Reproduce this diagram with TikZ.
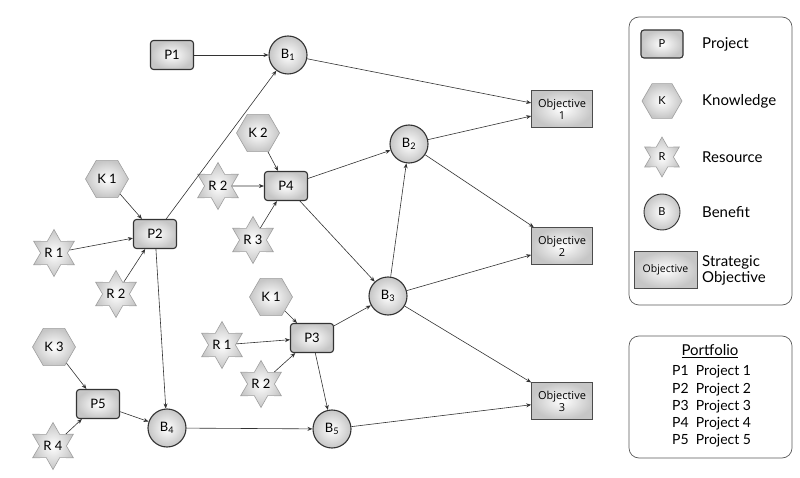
\documentclass[tikz,border=0pt]{standalone}
\usepackage{fontspec}
\setmainfont{Lato}
\newfontfamily\objfont{Open Sans}
\usetikzlibrary{shapes.geometric,arrows.meta}
\tikzset{
  gshade/.style={shading=radial, inner color=white, outer color=gray!45},
  proj/.style={gshade, draw=black!80, line width=1.1pt, rounded corners=3pt, minimum width=43pt, minimum height=29pt, inner sep=0pt, font=\fontsize{13}{14}\selectfont},
  know/.style={gshade, draw=gray!75, line width=0.6pt, regular polygon, regular polygon sides=6, minimum size=43pt, inner sep=0pt, font=\fontsize{13}{14}\selectfont},
  res/.style={gshade, draw=gray!75, line width=0.6pt, star, star points=6, star point ratio=1.75, minimum size=40pt, inner sep=0pt, font=\fontsize{13}{14}\selectfont},
  ben/.style={gshade, draw=black!80, line width=1.1pt, circle, minimum size=38pt, inner sep=0pt, font=\fontsize{13}{14}\selectfont},
  obj/.style={gshade, draw=black!70, line width=0.7pt, minimum width=61pt, minimum height=37pt, inner sep=0pt, align=center, font=\objfont\fontsize{11}{12}\selectfont},
  arr/.style={-{Stealth[length=5pt,width=4pt]}, draw=black!80, line width=0.6pt},
  legbox/.style={draw=black!65, line width=0.7pt, rounded corners=10pt},
  legtxt/.style={anchor=west, inner sep=0pt, align=left, font=\fontsize{15}{16}\selectfont},
  porttxt/.style={anchor=west, inner sep=0pt, font=\fontsize{14}{15}\selectfont}
}
\begin{document}
\begin{tikzpicture}[x=1pt,y=-1pt]
\useasboundingbox (0,0) rectangle (800,478);
% projects
\node[proj] (P1) at (172,55) {P1};
\node[proj] (P2) at (155,234) {P2};
\node[proj] (P3) at (312,338) {P3};
\node[proj] (P4) at (286,186) {P4};
\node[proj] (P5) at (98,404) {P5};
% benefits
\node[ben] (B1) at (288,55) {B\textsubscript{1}};
\node[ben] (B2) at (409,144) {B\textsubscript{2}};
\node[ben] (B3) at (388,296) {B\textsubscript{3}};
\node[ben] (B4) at (167,428) {B\textsubscript{4}};
\node[ben] (B5) at (332,429) {B\textsubscript{5}};
% knowledge
\node[know] (K1a) at (107,179) {K 1};
\node[know] (K2) at (258,133) {K 2};
\node[know] (K1b) at (271,297) {K 1};
\node[know] (K3) at (54,347) {K 3};
% resources
\node[res] (R1a) at (54,253) {R 1};
\node[res] (R2a) at (116,294) {R 2};
\node[res] (R2b) at (218,186) {R 2};
\node[res] (R3) at (253,240) {R 3};
\node[res] (R1b) at (222,345) {R 1};
\node[res] (R2c) at (261,384) {R 2};
\node[res] (R4) at (53,446) {R 4};
% objectives
\node[obj] (O1) at (562,109) {Objective\\1};
\node[obj] (O2) at (562,246) {Objective\\2};
\node[obj] (O3) at (562,401) {Objective\\3};
% connectors
\draw[arr] (P1) -- (B1);
\draw[arr] (P2) -- (B1);
\draw[arr] (B1) -- (O1);
\draw[arr] (B2) -- (O1);
\draw[arr] (K2) -- (P4);
\draw[arr] (R2b) -- (P4);
\draw[arr] (R3) -- (P4);
\draw[arr] (P4) -- (B2);
\draw[arr] (P4) -- (B3);
\draw[arr] (B3) -- (B2);
\draw[arr] (B2) -- (O2);
\draw[arr] (B3) -- (O2);
\draw[arr] (B3) -- (O3);
\draw[arr] (B5) -- (O3);
\draw[arr] (K1a) -- (P2);
\draw[arr] (R1a) -- (P2);
\draw[arr] (R2a) -- (P2);
\draw[arr] (P2) -- (B4);
\draw[arr] (K3) -- (P5);
\draw[arr] (R4) -- (P5);
\draw[arr] (P5) -- (B4);
\draw[arr] (B4) -- (B5);
\draw[arr] (K1b) -- (P3);
\draw[arr] (R1b) -- (P3);
\draw[arr] (R2c) -- (P3);
\draw[arr] (P3) -- (B3);
\draw[arr] (P3) -- (B5);
% legend
\node[legbox, minimum width=163pt, minimum height=288pt] (leg) at (710.5,161) {};
\node[proj, minimum width=42pt, minimum height=28pt, font=\fontsize{11}{12}\selectfont] (LP) at (662,44) {P};
\node[know, minimum size=40pt, font=\fontsize{11}{12}\selectfont] (LK) at (662,101) {K};
\node[res, minimum size=40pt, font=\fontsize{11}{12}\selectfont] (LR) at (662,157) {R};
\node[ben, line width=0.9pt, minimum size=36pt, font=\fontsize{11}{12}\selectfont] (LB) at (662,212) {B};
\node[obj, minimum width=63pt, font=\objfont\fontsize{10.5}{11}\selectfont] (LO) at (665.5,270) {Objective};
\node[legtxt] (tP) at (702,44) {Project};
\node[legtxt] (tK) at (702,101) {Knowledge};
\node[legtxt] (tR) at (702,157) {Resource};
\node[legtxt] (tB) at (702,212) {Benefit};
\node[legtxt, font=\fontsize{15}{16}\selectfont] (tO) at (702,270) {Strategic\\Objective};
% portfolio
\node[legbox, minimum width=163pt, minimum height=122pt] (port) at (710.5,397) {};
\node[inner sep=0pt, font=\fontsize{15}{16}\selectfont] (pt) at (710,351) {\underline{Portfolio}};
\node[porttxt] (l1) at (672,372) {P1\ \ Project 1};
\node[porttxt] (l2) at (672,389.5) {P2\ \ Project 2};
\node[porttxt] (l3) at (672,407) {P3\ \ Project 3};
\node[porttxt] (l4) at (672,424) {P4\ \ Project 4};
\node[porttxt] (l5) at (672,441) {P5\ \ Project 5};
\end{tikzpicture}
\end{document}
